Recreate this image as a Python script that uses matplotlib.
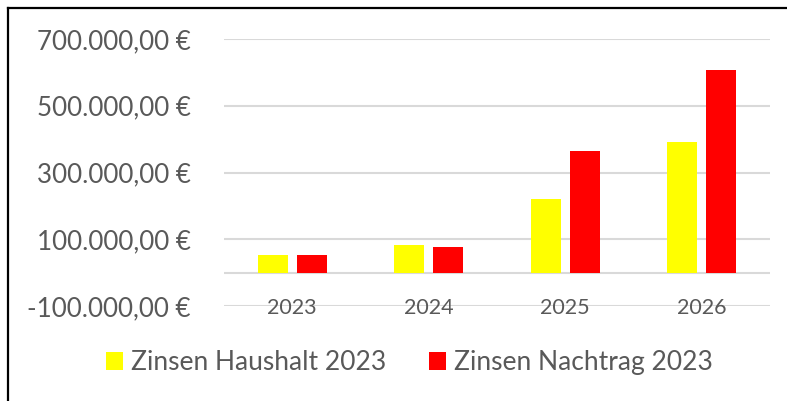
import numpy as np
import matplotlib
matplotlib.use("Agg")
import matplotlib.pyplot as plt
from matplotlib.lines import Line2D
from matplotlib.patches import Patch

# Data
years = ["2023", "2024", "2025", "2026"]
zinsen_haushalt = [53000, 84000, 221000, 392000]
zinsen_nachtrag = [52000, 77000, 364000, 607000]
series_names = ["Zinsen Haushalt 2023", "Zinsen Nachtrag 2023"]
series_colors = ["#ffff00", "#ff0000"]
ytick_values = [-100000, 100000, 300000, 500000, 700000]

plt.rcParams["font.family"] = ["Lato", "DejaVu Sans"]
text_color = "#595959"
grid_color = "#d9d9d9"


def euro(v):
    s = f"{v:,.2f}".replace(",", "X").replace(".", ",").replace("X", ".")
    return s + " €"


fig = plt.figure(figsize=(7.87, 4.01), dpi=100)
ax = fig.add_axes([224 / 787, 1 - 306 / 401, 546 / 787, 267 / 401])

x = np.arange(len(years))
width = 0.22
offset = 0.143
ax.bar(x - offset, zinsen_haushalt, width, color=series_colors[0], zorder=3)
ax.bar(x + offset, zinsen_nachtrag, width, color=series_colors[1], zorder=3)

ax.set_xlim(-0.5, len(years) - 0.5)
ax.set_ylim(-100000, 700000)
ax.set_yticks(ytick_values)
ax.set_yticklabels([euro(v) for v in ytick_values])
for v in ytick_values:
    ax.axhline(v, color=grid_color, linewidth=1.5, zorder=1)
ax.axhline(0, color=grid_color, linewidth=1.5, zorder=1)

ax.set_xticks(x)
ax.set_xticklabels(years)
for s in ax.spines.values():
    s.set_visible(False)
ax.spines["bottom"].set_position(("data", 0))
ax.tick_params(axis="x", length=0, pad=18, labelsize=15.5, labelcolor=text_color)
ax.tick_params(axis="y", length=0, pad=24, labelsize=18.7, labelcolor=text_color)

handles = [Patch(facecolor=c, edgecolor="none") for c in series_colors]
fig.legend(handles, series_names, loc="center", bbox_to_anchor=(0.52, 0.095),
           ncol=2, frameon=False, fontsize=19, labelcolor=text_color,
           handlelength=0.65, handleheight=0.65, handletextpad=0.3,
           columnspacing=1.6)

# outer frame (top and left edges visible)
fig.add_artist(Line2D([8 / 787, 8 / 787], [0, 1 - 8 / 401], color="black",
                      linewidth=1.6, transform=fig.transFigure))
fig.add_artist(Line2D([8 / 787, 1], [1 - 8 / 401, 1 - 8 / 401], color="black",
                      linewidth=1.6, transform=fig.transFigure))

fig.savefig("out.png", dpi=100)
